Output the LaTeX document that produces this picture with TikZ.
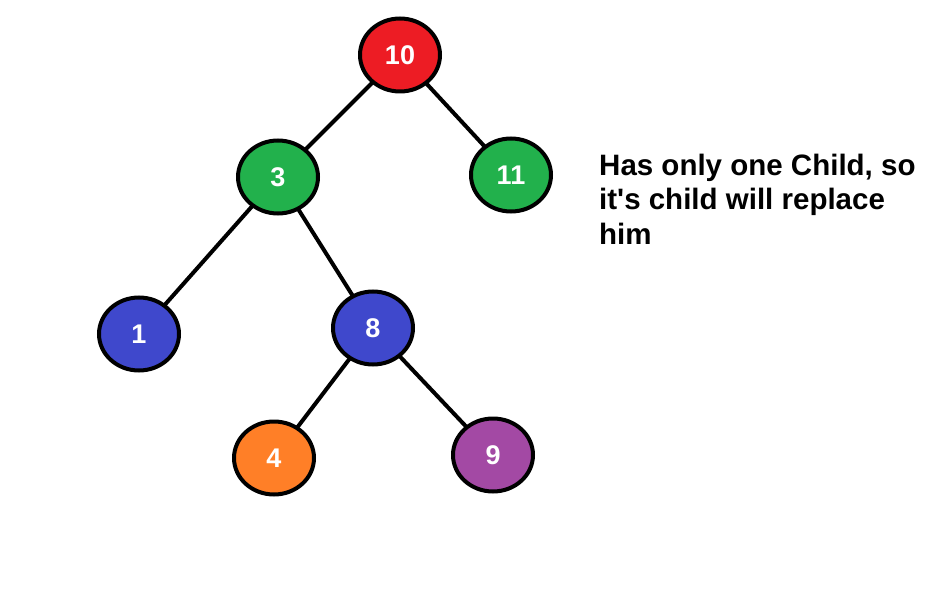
\documentclass[tikz,border=0pt]{standalone}
\usepackage{fontspec}
\setmainfont{Liberation Sans}
\usetikzlibrary{shapes.geometric,backgrounds}
\definecolor{pred}{HTML}{ED1C24}
\definecolor{pgreen}{HTML}{22B14C}
\definecolor{pblue}{HTML}{3F48CC}
\definecolor{porange}{HTML}{FF7F27}
\definecolor{ppurple}{HTML}{A349A4}
\begin{document}
\begin{tikzpicture}[x=1pt,y=-1pt,
  bnode/.style={ellipse,draw=black,line width=4pt,minimum width=80pt,minimum height=73pt,inner sep=0pt,
    text=white,font=\fontsize{27}{30}\selectfont\bfseries},
  edge/.style={line width=4pt,black}]
\useasboundingbox (0,0) rectangle (949,612);
\node[bnode,fill=pred] (n10) at (400,55) {\raisebox{-3pt}{10}};
\node[bnode,fill=pgreen] (n3) at (278,177) {\raisebox{-4pt}{3}};
\node[bnode,fill=pgreen] (n11) at (511,175) {11};
\node[bnode,fill=pblue] (n1) at (139,334) {\raisebox{-1pt}{1}};
\node[bnode,fill=pblue] (n8) at (373,328) {8};
\node[bnode,fill=porange] (n4) at (274,458) {4};
\node[bnode,fill=ppurple] (n9) at (493,455) {9};
\begin{scope}[on background layer]
\fill[white] (0,0) rectangle (949,612);
\draw[edge] (n10.center) -- (n3.center);
\draw[edge] (n10.center) -- (n11.center);
\draw[edge] (n3.center) -- (n1.center);
\draw[edge] (n3.center) -- (n8.center);
\draw[edge] (n8.center) -- (n4.center);
\draw[edge] (n8.center) -- (n9.center);
\end{scope}
\node[anchor=base west,align=left,font=\fontsize{29.5}{34.5}\selectfont\bfseries,inner sep=0pt] (txt) at (599,244)
  {Has only one Child, so\\it\textquotesingle s child will replace\\him};
\end{tikzpicture}
\end{document}
